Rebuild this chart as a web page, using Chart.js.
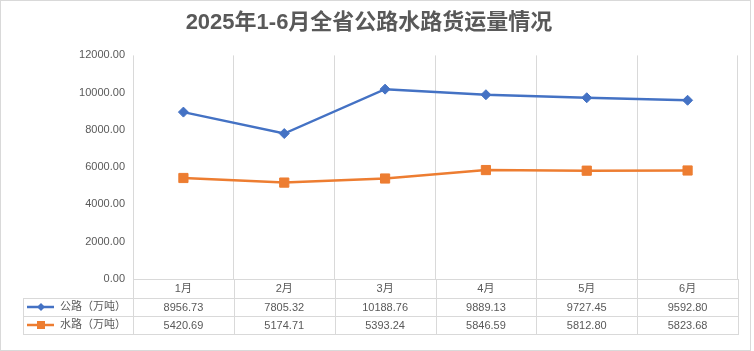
<!DOCTYPE html>
<html lang="zh-CN">
<head>
<meta charset="utf-8">
<title>2025年1-6月全省公路水路货运量情况</title>
<script src="https://cdn.jsdelivr.net/npm/chart.js@4.4.1/dist/chart.umd.min.js"></script>
<style>
  html, body { margin: 0; padding: 0; background: #fff; }
  #box { width: 754px; height: 351px; }
</style>
</head>
<body>
<div id="box"><canvas id="grafico" width="754" height="351"></canvas></div>
<script>
// ───────────────────────── datos
const meses   = ['1月', '2月', '3月', '4月', '5月', '6月'];
const nombres = ['公路（万吨）', '水路（万吨）'];
const gonglu  = [8956.73, 7805.32, 10188.76, 9889.13, 9727.45, 9592.80];
const shuilu  = [5420.69, 5174.71, 5393.24, 5846.59, 5812.80, 5823.68];

const azul    = '#4472c4';
const naranja = '#ed7d31';
const gris    = '#595959';
const linea   = '#d9d9d9';
const fuente  = "'Liberation Sans', 'Noto Sans CJK SC', sans-serif";

// ───────────────────────── tabla de datos bajo el eje (estilo Excel)
const tablaPlugin = {
  id: 'tabla',
  beforeDraw (chart) {
    const c = chart.ctx;
    c.save();
    c.strokeStyle = linea;
    c.lineWidth = 1;
    c.strokeRect(0.5, 0.5, 750, 350);
    c.restore();
  },
  afterDraw (chart) {
    const c = chart.ctx;
    const x = chart.scales.x;
    const area = chart.chartArea;
    const filaAlto = 18;
    const top = x.bottom;               // fin de la fila de meses
    const fondo = top + filaAlto * 2;
    const izq = 23;

    const centros = meses.map((m, i) => x.getPixelForValue(i));
    const bordes = [area.left];
    for (let i = 0; i < centros.length - 1; i++) bordes.push((centros[i] + centros[i + 1]) / 2);
    bordes.push(area.right);

    c.save();
    c.strokeStyle = linea;
    c.lineWidth = 1;
    c.beginPath();
    bordes.forEach(b => {
      const px = Math.round(b) + 0.5;
      c.moveTo(px, area.bottom);
      c.lineTo(px, fondo);
    });
    c.moveTo(izq + 0.5, top);
    c.lineTo(izq + 0.5, fondo);
    [top, top + filaAlto, fondo].forEach(y => {
      const py = Math.round(y) + 0.5;
      c.moveTo(izq, py);
      c.lineTo(area.right + 1, py);
    });
    c.stroke();

    // filas de la serie
    const series = [
      { datos: gonglu, color: azul,    marca: 'diamante' },
      { datos: shuilu, color: naranja, marca: 'cuadro' }
    ];
    c.font = `11px ${fuente}`;
    c.textBaseline = 'middle';
    series.forEach((s, k) => {
      const cy = top + filaAlto * k + filaAlto / 2;
      // muestra de leyenda
      c.strokeStyle = s.color;
      c.lineWidth = 2.5;
      c.beginPath();
      c.moveTo(27, cy);
      c.lineTo(54, cy);
      c.stroke();
      c.fillStyle = s.color;
      c.beginPath();
      if (s.marca === 'diamante') {
        c.moveTo(41, cy - 4); c.lineTo(45, cy); c.lineTo(41, cy + 4); c.lineTo(37, cy);
      } else {
        c.rect(37, cy - 4, 8, 8);
      }
      c.fill();

      c.fillStyle = gris;
      c.textAlign = 'left';
      c.fillText(nombres[k], 60, cy);
      c.textAlign = 'center';
      s.datos.forEach((v, i) => c.fillText(v.toFixed(2), centros[i], cy + 0.5));
    });
    c.restore();
  }
};

// ───────────────────────── gráfica
const ctx = document.getElementById('grafico').getContext('2d');
new Chart(ctx, {
  type: 'line',
  data: {
    labels: meses,
    datasets: [
      {
        label: nombres[0], data: gonglu,
        borderColor: azul, backgroundColor: azul, borderWidth: 2.5,
        pointStyle: 'rectRot', pointRadius: 5, pointBorderWidth: 1,
        tension: 0
      },
      {
        label: nombres[1], data: shuilu,
        borderColor: naranja, backgroundColor: naranja, borderWidth: 2.5,
        pointStyle: 'rect', pointRadius: 6.5, pointBorderWidth: 1,
        tension: 0
      }
    ]
  },
  options: {
    responsive: false,
    animation: false,
    devicePixelRatio: 1,
    layout: { padding: { left: 0, right: 16, top: 0, bottom: 53 } },
    plugins: {
      legend: { display: false },
      tooltip: { enabled: false },
      title: {
        display: true,
        text: '2025年1-6月全省公路水路货运量情况',
        color: gris,
        font: { family: fuente, size: 22, weight: 'bold' },
        padding: { top: 10, bottom: 19 }
      }
    },
    scales: {
      x: {
        offset: true,
        grid: { display: true, offset: true, color: linea, drawTicks: false },
        border: { display: true, color: linea },
        ticks: { color: gris, font: { family: fuente, size: 11 }, padding: 3 },
        afterFit: s => { s.height = 19; }
      },
      y: {
        min: 0, max: 12000,
        grid: { display: false, drawTicks: false },
        border: { display: false },
        ticks: {
          stepSize: 2000, color: gris, padding: 8,
          font: { family: fuente, size: 11 },
          callback: v => Number(v).toFixed(2)
        },
        afterFit: s => { s.width = 133; }
      }
    }
  },
  plugins: [tablaPlugin]
});
</script>
</body>
</html>
